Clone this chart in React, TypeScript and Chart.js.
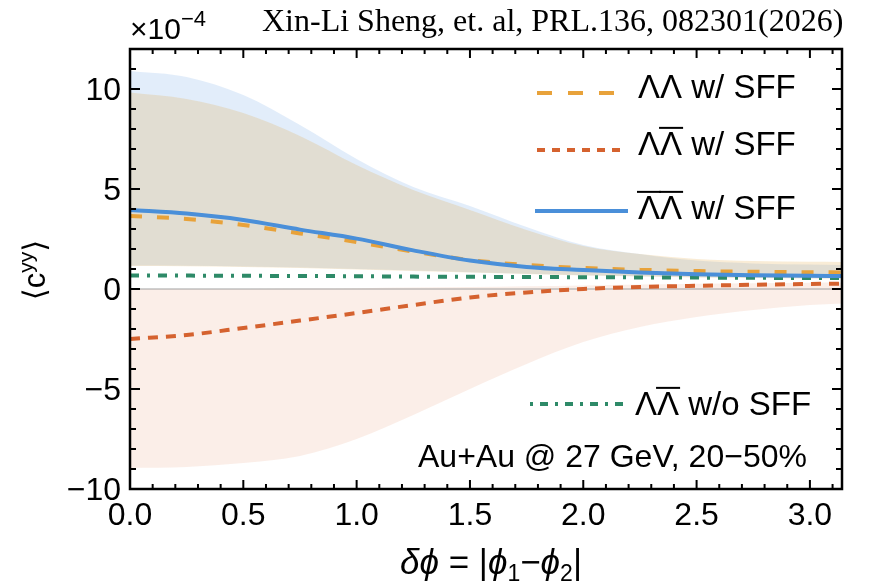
import { useEffect, useRef } from "react";
import { Chart, registerables } from "chart.js";

Chart.register(...registerables);

// δϕ sampling points
const dphi = [0, 0.25, 0.5, 0.75, 1.0, 1.25, 1.5, 1.75, 2.0, 2.25, 2.5, 2.75, 3.0, Math.PI];

// central values of <c^yy> in units of 1e-4
const llSff = [3.65, 3.5, 3.2, 2.78, 2.35, 1.87, 1.45, 1.2, 1.05, 0.96, 0.9, 0.86, 0.84, 0.83];
const llbarSff = [-2.5, -2.3, -1.95, -1.58, -1.2, -0.8, -0.42, -0.17, 0.0, 0.1, 0.16, 0.21, 0.25, 0.27];
const lbarlbarSff = [3.95, 3.77, 3.45, 2.97, 2.52, 1.93, 1.42, 1.1, 0.95, 0.82, 0.74, 0.69, 0.66, 0.65];
const llbarNoSff = [0.68, 0.67, 0.66, 0.65, 0.64, 0.62, 0.61, 0.6, 0.59, 0.58, 0.57, 0.56, 0.55, 0.55];

// uncertainty bands
const llSffHi = [9.82, 9.5, 8.8, 7.65, 6.2, 4.95, 3.95, 2.95, 2.15, 1.75, 1.5, 1.4, 1.36, 1.35];
const llSffLo = [1.15, 1.14, 1.1, 1.05, 0.98, 0.9, 0.82, 0.75, 0.68, 0.63, 0.58, 0.55, 0.53, 0.52];
const lbarlbarSffHi = [10.9, 10.6, 9.7, 8.2, 6.5, 5.1, 4.15, 3.1, 2.2, 1.75, 1.42, 1.28, 1.22, 1.2];
const lbarlbarSffLo = [1.17, 1.16, 1.12, 1.07, 1.0, 0.92, 0.84, 0.76, 0.69, 0.64, 0.59, 0.56, 0.54, 0.53];
const llbarSffHi = [0.0, 0.0, 0.0, 0.02, 0.04, 0.07, 0.1, 0.14, 0.18, 0.22, 0.26, 0.29, 0.31, 0.32];
const llbarSffLo = [-8.95, -8.9, -8.7, -8.35, -7.5, -6.3, -5.0, -3.75, -2.65, -1.9, -1.4, -1.05, -0.8, -0.72];

// reference line at zero
const zeroX = [0, Math.PI];
const zeroY = [0, 0];

// axes
const xTicks = [0, 0.5, 1.0, 1.5, 2.0, 2.5, 3.0];
const yTicks = [-10, -5, 0, 5, 10];
const xRange = [0, Math.PI];
const yRange = [-10, 12];

const SANS = '"Liberation Sans", "DejaVu Sans", Arial, sans-serif';
const SERIF = '"Liberation Serif", "Times New Roman", serif';

const BLUE = "#4a8fd9";
const ORANGE = "#e8a23a";
const RED = "#d5622f";
const GREEN = "#2e8a68";

const pts = (xs: number[], ys: number[]) => xs.map((x, i) => ({ x, y: ys[i] }));

type Run = { t: string; f: string; dy?: number };

function runsWidth(ctx: CanvasRenderingContext2D, runs: Run[]) {
  let w = 0;
  for (const r of runs) {
    ctx.font = r.f;
    w += ctx.measureText(r.t).width;
  }
  return w;
}

function drawRuns(ctx: CanvasRenderingContext2D, runs: Run[], x: number, y: number) {
  let cx = x;
  for (const r of runs) {
    ctx.font = r.f;
    ctx.fillText(r.t, cx, y + (r.dy || 0));
    cx += ctx.measureText(r.t).width;
  }
  return cx;
}

// text pieces with optional overbars (antiparticle notation)
type Piece = { t: string; bar?: boolean };

function drawBarred(ctx: CanvasRenderingContext2D, pieces: Piece[], x: number, y: number, size: number) {
  ctx.font = `${size}px ${SANS}`;
  let cx = x;
  const barY = y - size * 0.716 - 3.5;
  for (const p of pieces) {
    const w = ctx.measureText(p.t).width;
    ctx.fillText(p.t, cx, y);
    if (p.bar) {
      ctx.save();
      ctx.lineWidth = 2;
      ctx.strokeStyle = "#000";
      ctx.beginPath();
      ctx.moveTo(cx - 1, barY);
      ctx.lineTo(cx + w + 1, barY);
      ctx.stroke();
      ctx.restore();
    }
    cx += w;
  }
}

type LegendItem = {
  pieces: Piece[];
  color: string;
  dash: number[];
  width: number;
  lineY: number;
  x0: number;
  x1: number;
  textX: number;
  textY: number;
};

const legendItems: LegendItem[] = [
  {
    pieces: [{ t: "Λ" }, { t: "Λ" }, { t: " w/ SFF" }],
    color: ORANGE, dash: [15, 16], width: 4, lineY: 93, x0: 537, x1: 618, textX: 638, textY: 98,
  },
  {
    pieces: [{ t: "Λ" }, { t: "Λ", bar: true }, { t: " w/ SFF" }],
    color: RED, dash: [8, 7], width: 4, lineY: 150, x0: 537, x1: 620, textX: 638, textY: 155,
  },
  {
    pieces: [{ t: "Λ", bar: true }, { t: "Λ", bar: true }, { t: " w/ SFF" }],
    color: BLUE, dash: [], width: 4, lineY: 211, x0: 535, x1: 628, textX: 638, textY: 219,
  },
  {
    pieces: [{ t: "Λ" }, { t: "Λ", bar: true }, { t: " w/o SFF" }],
    color: GREEN, dash: [3, 7, 8, 7], width: 4, lineY: 404, x0: 530, x1: 623, textX: 635, textY: 415,
  },
];

const decorations = {
  id: "decorations",
  afterDraw(chart: any) {
    const { ctx, chartArea: a, scales } = chart;
    const xs = scales.x;
    const ys = scales.y;
    ctx.save();
    ctx.fillStyle = "#000";
    ctx.strokeStyle = "#000";

    // inward tick marks on all four sides
    ctx.lineWidth = 2;
    ctx.beginPath();
    for (let i = 1; i <= 31; i++) {
      const v = i / 10;
      const px = xs.getPixelForValue(v);
      const len = i % 5 === 0 ? 9 : 5;
      ctx.moveTo(px, a.bottom);
      ctx.lineTo(px, a.bottom - len);
      ctx.moveTo(px, a.top);
      ctx.lineTo(px, a.top + len);
    }
    for (let v = -9; v <= 11; v++) {
      const py = ys.getPixelForValue(v);
      const len = v % 5 === 0 ? 10 : 6;
      ctx.moveTo(a.left, py);
      ctx.lineTo(a.left + len, py);
      ctx.moveTo(a.right, py);
      ctx.lineTo(a.right - len, py);
    }
    ctx.stroke();

    // frame
    ctx.lineWidth = 2.5;
    ctx.strokeRect(a.left, a.top, a.right - a.left, a.bottom - a.top);

    // tick labels
    ctx.font = `32px ${SANS}`;
    ctx.textAlign = "center";
    ctx.textBaseline = "alphabetic";
    for (const v of xTicks) {
      ctx.fillText(v.toFixed(1), xs.getPixelForValue(v), a.bottom + 36);
    }
    ctx.textAlign = "right";
    for (const v of yTicks) {
      const s = v < 0 ? `\u2212${-v}` : `${v}`;
      ctx.fillText(s, a.left - 9, ys.getPixelForValue(v) + 11);
    }

    // scale factor
    ctx.textAlign = "left";
    drawRuns(
      ctx,
      [
        { t: "×10", f: `30px ${SANS}` },
        { t: "\u22124", f: `22px ${SANS}`, dy: -13 },
      ],
      a.left,
      39
    );

    // x axis title
    const itf = `italic 35px ${SANS}`;
    const upf = `35px ${SANS}`;
    const sub = `23px ${SANS}`;
    const xRuns: Run[] = [
      { t: "δϕ", f: itf },
      { t: " = |", f: upf },
      { t: "ϕ", f: itf },
      { t: "1", f: sub, dy: 7 },
      { t: "\u2212", f: upf },
      { t: "ϕ", f: itf },
      { t: "2", f: sub, dy: 7 },
      { t: "|", f: upf },
    ];
    const xw = runsWidth(ctx, xRuns);
    drawRuns(ctx, xRuns, 491 - xw / 2, 574);

    // y axis title
    const yf = `31px ${SANS}`;
    const yRuns: Run[] = [
      { t: "\u27e8", f: yf },
      { t: "c", f: yf },
      { t: "yy", f: `21px ${SANS}`, dy: -12 },
      { t: "\u27e9", f: yf },
    ];
    const yw = runsWidth(ctx, yRuns);
    ctx.save();
    ctx.translate(45, 270);
    ctx.rotate(-Math.PI / 2);
    drawRuns(ctx, yRuns, -yw / 2, 0);
    ctx.restore();

    // legend
    for (const it of legendItems) {
      ctx.save();
      ctx.strokeStyle = it.color;
      ctx.lineWidth = it.width;
      ctx.lineCap = "butt";
      ctx.setLineDash(it.dash);
      ctx.beginPath();
      ctx.moveTo(it.x0, it.lineY);
      ctx.lineTo(it.x1, it.lineY);
      ctx.stroke();
      ctx.restore();
      drawBarred(ctx, it.pieces, it.textX, it.textY, 33);
    }

    ctx.font = `32px ${SANS}`;
    ctx.fillText("Au+Au @ 27 GeV, 20\u221250%", 418, 467);

    // citation
    ctx.font = `32px ${SERIF}`;
    ctx.fillText("Xin-Li Sheng, et. al, PRL.136, 082301(2026)", 262, 31);

    ctx.restore();
  },
};

export default function App() {
  const ref = useRef<HTMLCanvasElement>(null);

  useEffect(() => {
    const canvas = ref.current!;
    const band = (ys: number[], color: string, order: number, fill: any) => ({
      data: pts(dphi, ys),
      borderColor: "rgba(0,0,0,0)",
      borderWidth: 0,
      backgroundColor: color,
      fill,
      order,
    });
    const chart = new Chart(canvas, {
      type: "line",
      data: {
        datasets: [
          { data: pts(dphi, lbarlbarSff), borderColor: BLUE, borderWidth: 4, fill: false, order: 0 },
          { data: pts(dphi, llSff), borderColor: ORANGE, borderWidth: 4, borderDash: [12, 15], fill: false, order: 1 },
          { data: pts(dphi, llbarSff), borderColor: RED, borderWidth: 4, borderDash: [10, 8], fill: false, order: 2 },
          { data: pts(dphi, llbarNoSff), borderColor: GREEN, borderWidth: 4, borderDash: [9, 8, 3, 8], fill: false, order: 3 },
          { data: pts(zeroX, zeroY), borderColor: "#a0a0a0", borderWidth: 1, fill: false, order: 4 },
          band(llSffHi, "rgba(225,156,36,0.19)", 5, "+1"),
          band(llSffLo, "rgba(0,0,0,0)", 6, false),
          band(lbarlbarSffHi, "rgba(74,144,226,0.16)", 7, "+1"),
          band(lbarlbarSffLo, "rgba(0,0,0,0)", 8, false),
          band(llbarSffHi, "rgba(217,96,48,0.11)", 9, "+1"),
          band(llbarSffLo, "rgba(0,0,0,0)", 10, false),
        ] as any,
      },
      options: {
        responsive: false,
        animation: false,
        devicePixelRatio: 1,
        events: [],
        layout: { padding: { left: 130, top: 49, right: 29, bottom: 94 } },
        scales: {
          x: { type: "linear", min: xRange[0], max: xRange[1], display: false },
          y: { type: "linear", min: yRange[0], max: yRange[1], display: false },
        },
        elements: {
          point: { radius: 0 },
          line: { cubicInterpolationMode: "monotone" },
        },
        plugins: {
          legend: { display: false },
          tooltip: { enabled: false },
        },
      },
      plugins: [decorations],
    });
    return () => chart.destroy();
  }, []);

  return (
    <canvas
      ref={ref}
      width={871}
      height={583}
      style={{ position: "absolute", left: 0, top: 0, width: 871, height: 583 }}
    />
  );
}
